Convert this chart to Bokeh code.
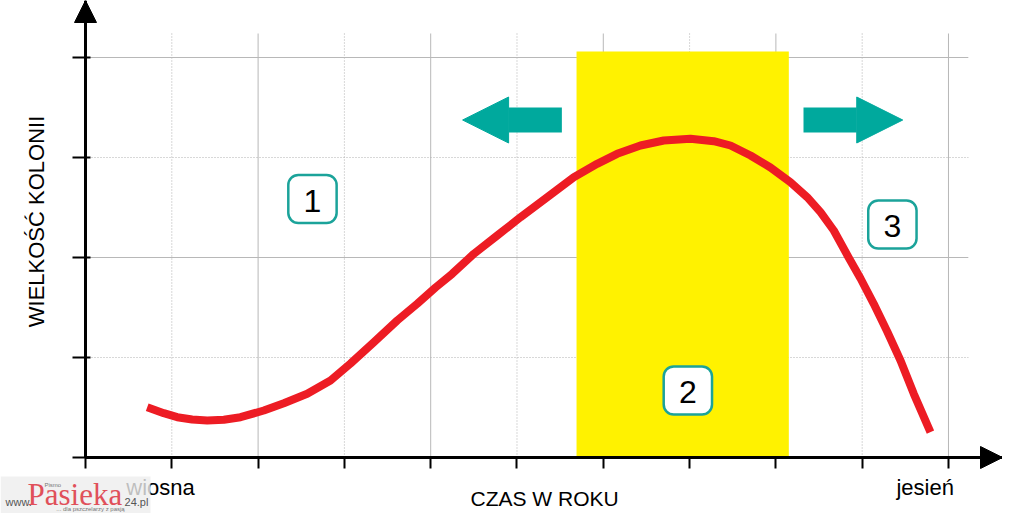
import math
from bokeh.plotting import figure
from bokeh.models import (Range1d, FixedTicker, Label, BoxAnnotation, Arrow, NormalHead)
from bokeh.embed import file_html
from bokeh.resources import INLINE

# ---------------- data ----------------
time_of_year = [0.715, 0.907, 1.063, 1.236, 1.410, 1.603, 1.796, 2.066, 2.298, 2.569,
                2.839, 3.071, 3.341, 3.612, 3.844, 4.056, 4.249, 4.500, 4.771, 5.041,
                5.350, 5.658, 5.929, 6.161, 6.431, 6.701, 7.010, 7.280, 7.474, 7.706,
                7.937, 8.169, 8.363, 8.517, 8.671, 8.830, 8.981, 9.134, 9.290, 9.444,
                9.598, 9.791]
colony_size = [0.503, 0.443, 0.403, 0.380, 0.370, 0.377, 0.403, 0.470, 0.543, 0.637,
               0.770, 0.940, 1.153, 1.370, 1.537, 1.700, 1.837, 2.037, 2.220, 2.403,
               2.603, 2.803, 2.937, 3.037, 3.120, 3.170, 3.187, 3.163, 3.120, 3.020,
               2.900, 2.753, 2.603, 2.453, 2.270, 2.020, 1.790, 1.537, 1.260, 0.970,
               0.637, 0.253]
x_ticks = list(range(11))
y_ticks = list(range(5))
season_names = ["wiosna", "jesień"]
season_pos = [0.87, 9.73]
phase_names = ["1", "2", "3"]
phase_x = [2.63, 6.98, 9.35]
phase_y = [2.585, 0.67, 2.33]
peak_start, peak_end = 5.69, 8.15
x_title = "CZAS W ROKU"
y_title = "WIELKOŚĆ KOLONII"

# ---------------- styles ----------------
RED = "#ED1C24"
TEAL = "#00A99D"
YELLOW = "#FFF200"
FONT = "Liberation Sans"

XMIN, XMAX = -0.985, 10.626
YMIN, YMAX = -0.56, 4.57
p = figure(width=1002, height=513, x_range=Range1d(XMIN, XMAX), y_range=Range1d(YMIN, YMAX),
           min_border=0, toolbar_location=None, output_backend="svg")
p.outline_line_color = None
p.xgrid.visible = False
p.ygrid.visible = False

# axes, pinned at the origin
for ax, ticks, bnds in ((p.xaxis[0], x_ticks, (0, XMAX)), (p.yaxis[0], y_ticks, (0, YMAX))):
    ax.ticker = FixedTicker(ticks=ticks)
    ax.major_label_overrides = {t: "" for t in ticks}
    ax.fixed_location = 0
    ax.bounds = bnds
    ax.axis_line_color = "black"
    ax.axis_line_width = 3
    ax.major_tick_line_color = "black"
    ax.major_tick_line_width = 2
    ax.minor_tick_line_color = None
p.xaxis.major_tick_in = 0
p.xaxis.major_tick_out = 11
p.yaxis.major_tick_in = 5
p.yaxis.major_tick_out = 13

# grid lines (custom extents)
GRID_TOP, GRID_RIGHT = 4.24, 10.23
vx_solid = [t for t in x_ticks[1:] if t % 2 == 0]
vx_dot = [t for t in x_ticks[1:] if t % 2 == 1]
hy_solid = [j for j in y_ticks[1:] if j % 2 == 0]
hy_dot = [j for j in y_ticks[1:] if j % 2 == 1]
p.segment(x0=vx_solid, y0=[0] * len(vx_solid), x1=vx_solid, y1=[GRID_TOP] * len(vx_solid),
          line_color="#b8b8b8", line_width=1)
p.segment(x0=vx_dot, y0=[0] * len(vx_dot), x1=vx_dot, y1=[GRID_TOP] * len(vx_dot),
          line_color="#b0b0b0", line_width=1, line_dash="1 2")
p.segment(x0=[0] * len(hy_solid), y0=hy_solid, x1=[GRID_RIGHT] * len(hy_solid), y1=hy_solid,
          line_color="#b8b8b8", line_width=1)
p.segment(x0=[0] * len(hy_dot), y0=hy_dot, x1=[GRID_RIGHT] * len(hy_dot), y1=hy_dot,
          line_color="#b0b0b0", line_width=1, line_dash="1 2")

# yellow band
p.quad(left=[peak_start], right=[peak_end], bottom=[0], top=[4.06],
       fill_color=YELLOW, line_color=None)

# red curve
p.line(time_of_year, colony_size, line_color=RED, line_width=8,
       line_join="round", line_cap="butt")

# teal arrows
for xs, xe in ((5.52, 4.37), (8.32, 9.47)):
    p.add_layout(Arrow(x_start=xs, y_start=3.375, x_end=xe, y_end=3.375,
                       line_color=TEAL, line_width=25,
                       end=NormalHead(size=46, fill_color=TEAL, line_color=TEAL, line_width=1)))

# axis arrow heads
p.add_layout(Arrow(x_start=0, y_start=YMAX - 0.3, x_end=0, y_end=YMAX, line_alpha=0,
                   end=NormalHead(size=22, fill_color="black", line_color="black", line_width=1)))
p.add_layout(Arrow(x_start=XMAX - 0.3, y_start=0, x_end=XMAX, y_end=0, line_alpha=0,
                   end=NormalHead(size=22, fill_color="black", line_color="black", line_width=1)))

# numbered boxes
HW, HH = 0.28, 0.24
for name, cx, cy in zip(phase_names, phase_x, phase_y):
    p.add_layout(BoxAnnotation(left=cx - HW, right=cx + HW, bottom=cy - HH, top=cy + HH,
                               fill_color="white", fill_alpha=1, line_color="#1BA39A",
                               line_width=2.5, line_alpha=1, border_radius=10))
    p.add_layout(Label(x=cx, y=cy - 0.015, text=name, text_align="center",
                       text_baseline="middle", text_font=FONT,
                       text_font_size="32px", text_color="black"))

# axis titles and season labels
p.add_layout(Label(x=5.32, y=-0.41, text=x_title, text_align="center",
                   text_baseline="middle", text_font=FONT, text_font_size="21px",
                   text_color="black"))
p.add_layout(Label(x=-0.568, y=2.36, text=y_title, text_align="center",
                   text_baseline="middle", angle=math.pi / 2, text_font=FONT,
                   text_font_size="22px", text_color="black"))
for name, sx in zip(season_names, season_pos):
    p.add_layout(Label(x=sx, y=-0.30, text=name, text_align="center",
                       text_baseline="middle", text_font=FONT, text_font_size="22px",
                       text_color="black"))

# logo watermark
p.add_layout(BoxAnnotation(left=XMIN, right=0.753, bottom=-0.56, top=-0.19,
                           fill_color="#eeeeee", fill_alpha=0.8, line_alpha=0))
p.add_layout(Label(x=-0.38, y=-0.27, text="Pismo", text_align="center",
                   text_baseline="middle", text_font=FONT, text_font_size="6px",
                   text_color="#777777"))
p.add_layout(Label(x=-0.927, y=-0.44, text="www.", text_font=FONT,
                   text_baseline="middle", text_font_size="11px", text_color="#555555"))
p.add_layout(Label(x=-0.672, y=-0.37, text="Pasieka", text_font="Liberation Serif",
                   text_baseline="middle", text_font_size="31px", text_color="#e0505a"))
p.add_layout(Label(x=0.452, y=-0.44, text="24.pl", text_font=FONT,
                   text_baseline="middle", text_font_size="11px", text_color="#555555"))
p.add_layout(Label(x=0.058, y=-0.51, text="... dla pszczelarzy z pasją", text_align="center",
                   text_baseline="middle", text_font=FONT, text_font_size="6px",
                   text_color="#777777"))

open("out.html", "w").write(file_html(p, INLINE))
